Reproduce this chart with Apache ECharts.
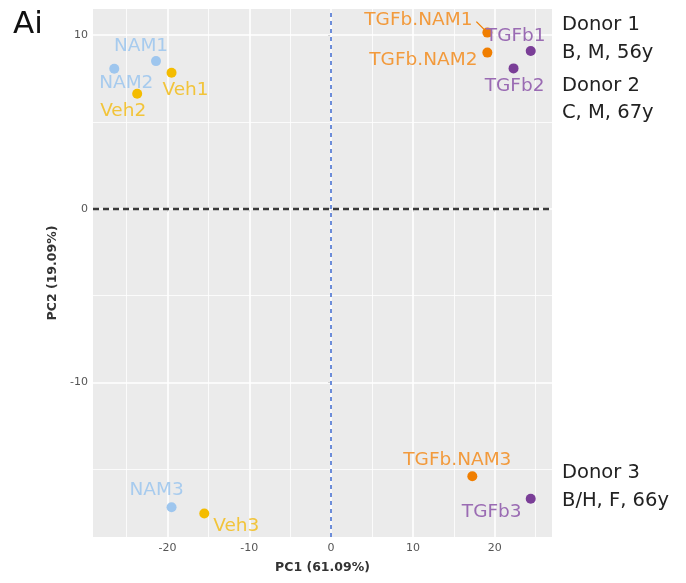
<!DOCTYPE html>
<html>
<head>
<meta charset="utf-8">
<script src="https://cdn.jsdelivr.net/npm/echarts@6/dist/echarts.min.js"></script>
<style>
  html, body { margin: 0; padding: 0; background: #ffffff; }
  #chart { width: 686px; height: 583px; }
</style>
</head>
<body>
<div id="chart"></div>
<script>
// PCA scores per treatment group (PC1, PC2)
const namNames = ['NAM1', 'NAM2', 'NAM3'];
const namPC1 = [-21.4, -26.5, -19.5];
const namPC2 = [8.5, 8.06, -17.19];

const vehNames = ['Veh1', 'Veh2', 'Veh3'];
const vehPC1 = [-19.5, -23.7, -15.5];
const vehPC2 = [7.83, 6.62, -17.55];

const tgfbNamNames = ['TGFb.NAM1', 'TGFb.NAM2', 'TGFb.NAM3'];
const tgfbNamPC1 = [19.1, 19.1, 17.26];
const tgfbNamPC2 = [10.14, 8.99, -15.4];

const tgfbNames = ['TGFb1', 'TGFb2', 'TGFb3'];
const tgfbPC1 = [24.4, 22.3, 24.4];
const tgfbPC2 = [9.08, 8.08, -16.7];

// Axis ticks and grid
const xMajorTicks = [-20, -10, 0, 10, 20];
const xMinorTicks = [-25, -15, -5, 5, 15, 25];
const yMajorTicks = [-10, 0, 10];
const yMinorTicks = [-15, -5, 5];

const xTitle = 'PC1 (61.09%)';
const yTitle = 'PC2 (19.09%)';
const panelTag = 'Ai';
const donorNotes = [
  ['Donor 1', 'B, M, 56y'],
  ['Donor 2', 'C, M, 67y'],
  ['Donor 3', 'B/H, F, 66y']
];

// Label placement (pixel nudges from each point, like ggrepel)
const labelNudge = {
  'NAM1': [-15, -15], 'NAM2': [12, 14], 'NAM3': [-15, -17],
  'Veh1': [14, 17], 'Veh2': [-14, 17], 'Veh3': [32, 13],
  'TGFb.NAM1': [-69, -12], 'TGFb.NAM2': [-64, 8], 'TGFb.NAM3': [-15, -16],
  'TGFb1': [-15, -15], 'TGFb2': [1, 18], 'TGFb3': [-39, 13]
};

const FONT = 'DejaVu Sans';

function groupSeries(names, xs, ys, pointColor, textColor) {
  return {
    type: 'scatter',
    symbolSize: 10,
    z: 5,
    itemStyle: { color: pointColor, opacity: 1 },
    label: {
      show: true,
      position: 'inside',
      formatter: p => p.data.name,
      color: textColor,
      fontFamily: FONT,
      fontSize: 18.5
    },
    labelLayout: function (p) {
      const name = names[p.dataIndex];
      const d = labelNudge[name] || [0, 0];
      return { dx: d[0], dy: d[1] };
    },
    emphasis: { disabled: true },
    data: names.map((n, i) => ({ name: n, value: [xs[i], ys[i]] }))
  };
}

function vLines(vals, width) {
  return vals.map(v => ({ xAxis: v, lineStyle: { color: '#ffffff', width: width, type: 'solid' } }));
}
function hLines(vals, width) {
  return vals.map(v => ({ yAxis: v, lineStyle: { color: '#ffffff', width: width, type: 'solid' } }));
}

const chart = echarts.init(document.getElementById('chart'), null, { renderer: 'canvas' });

const gridOpt = { left: 93, right: 134, top: 9, bottom: 46 };

const option = {
  backgroundColor: '#ffffff',
  animation: false,
  grid: Object.assign({ show: true, backgroundColor: '#EBEBEB', borderWidth: 0 }, gridOpt),
  xAxis: {
    type: 'value',
    min: -29.1,
    max: 27.0,
    axisLine: { show: false },
    splitLine: { show: false },
    axisTick: { show: true, customValues: xMajorTicks, length: 3, lineStyle: { color: '#444', width: 1 } },
    axisLabel: { customValues: xMajorTicks, color: '#555', fontFamily: FONT, fontSize: 11, margin: 6 },
    name: xTitle,
    nameLocation: 'middle',
    nameGap: 24,
    nameTextStyle: { color: '#333', fontFamily: FONT, fontSize: 12.5, fontWeight: 'bold' }
  },
  yAxis: {
    type: 'value',
    min: -18.9,
    max: 11.5,
    axisLine: { show: false },
    splitLine: { show: false },
    axisTick: { show: true, customValues: yMajorTicks, length: 3, lineStyle: { color: '#444', width: 1 } },
    axisLabel: { customValues: yMajorTicks, color: '#555', fontFamily: FONT, fontSize: 11, margin: 5 },
    name: yTitle,
    nameLocation: 'middle',
    nameGap: 28,
    nameRotate: 90,
    nameTextStyle: { color: '#333', fontFamily: FONT, fontSize: 12.5, fontWeight: 'bold' }
  },
  series: [
    {
      // panel grid lines and the zero reference lines
      type: 'line',
      data: [],
      silent: true,
      z: 1,
      markLine: {
        silent: true,
        symbol: 'none',
        label: { show: false },
        animation: false,
        data: [].concat(
          vLines(xMinorTicks, 0.8),
          hLines(yMinorTicks, 0.8),
          vLines(xMajorTicks, 1.6),
          hLines(yMajorTicks, 1.6),
          [
            { yAxis: 0, lineStyle: { color: '#3a3a3a', width: 2.4, type: [6, 4] } },
            { xAxis: 0, lineStyle: { color: '#4A72D0', width: 1.6, type: [4, 4] } }
          ]
        )
      }
    },
    groupSeries(namNames, namPC1, namPC2, '#9EC6EE', '#A7CBEE'),
    groupSeries(vehNames, vehPC1, vehPC2, '#F4BC00', '#F2C43A'),
    groupSeries(tgfbNamNames, tgfbNamPC1, tgfbNamPC2, '#F07E00', '#F29A3C'),
    groupSeries(tgfbNames, tgfbPC1, tgfbPC2, '#7A3E97', '#9A6BB3')
  ],
  graphic: [
    {
      type: 'text', left: 13, top: 9,
      style: { text: panelTag, fontFamily: FONT, fontSize: 31, fill: '#111' }
    }
  ]
};

chart.setOption(option);

// Donor annotations on the right, and the repel segment for the first TGFb.NAM label
const noteTops = [[15, 43], [76, 103], [463, 491]];
const graphics = [option.graphic[0]];
donorNotes.forEach((lines, i) => {
  lines.forEach((t, j) => {
    graphics.push({
      type: 'text', left: 562, top: noteTops[i][j],
      style: { text: t, fontFamily: FONT, fontSize: 19.5, fill: '#222' }
    });
  });
});
const p = chart.convertToPixel({ seriesIndex: 3 }, [tgfbNamPC1[0], tgfbNamPC2[0]]);
graphics.push({
  type: 'line',
  shape: { x1: p[0] - 11, y1: p[1] - 11, x2: p[0] - 3, y2: p[1] - 3 },
  style: { stroke: '#F07E00', lineWidth: 1.3 },
  z: 4
});
chart.setOption({ graphic: graphics });
</script>
</body>
</html>
